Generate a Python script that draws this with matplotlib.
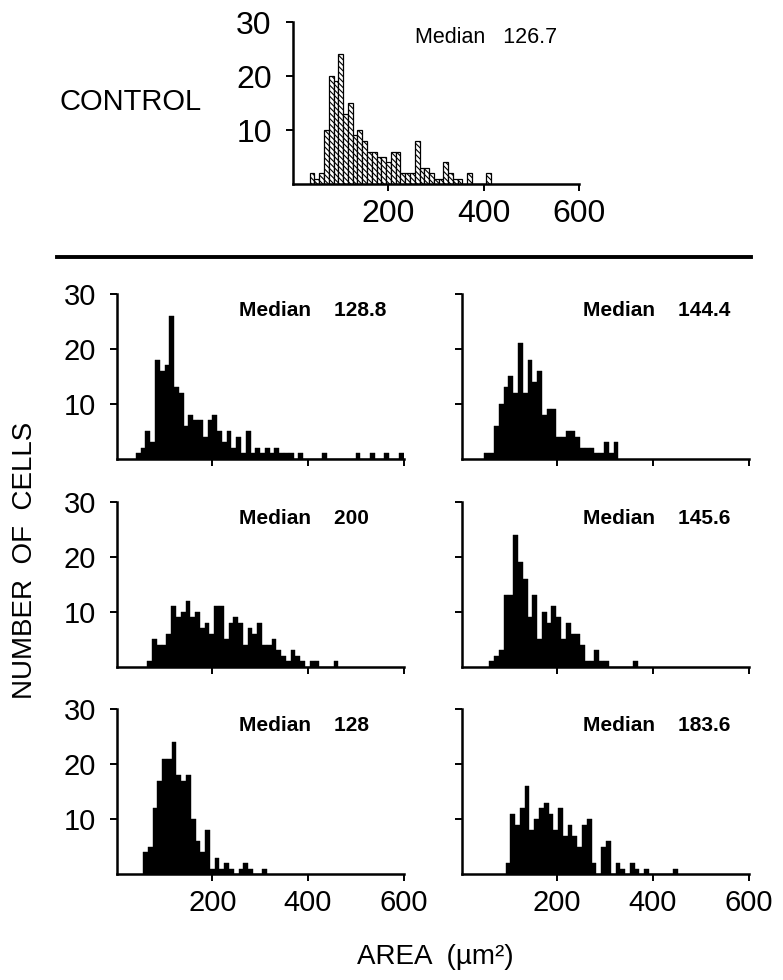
import numpy as np
import matplotlib

matplotlib.use("Agg")
import matplotlib.pyplot as plt
from matplotlib.lines import Line2D

plt.rcParams["font.family"] = ["Liberation Sans", "DejaVu Sans"]
plt.rcParams["hatch.linewidth"] = 0.8

# histogram data: bin width in um^2, first bin edge and counts per bin
BIN_WIDTH = 10

control_start = 36
control_counts = [2, 1, 2, 10, 20, 19, 24, 13, 15, 9, 10, 8, 6, 6, 5, 5, 4, 6, 6, 2,
                  2, 2, 8, 3, 3, 2, 1, 1, 4, 2, 1, 1, 0, 2, 0, 0, 0, 2]
control_median = "126.7"

r1_left_start = 40
r1_left_counts = [1, 2, 5, 3, 18, 16, 17, 26, 13, 12, 6, 8, 7, 7, 4, 7, 8, 5, 3, 5,
                  2, 4, 1, 5, 1, 2, 1, 2, 1, 2, 1, 1, 1, 0, 1, 0, 0, 0, 0, 1,
                  0, 0, 0, 0, 0, 0, 1, 0, 0, 1, 0, 0, 1, 0, 0, 1]
r1_left_median = "128.8"

r1_right_start = 48
r1_right_counts = [1, 1, 6, 10, 13, 15, 12, 21, 12, 18, 14, 16, 8, 9, 9, 4, 4, 5, 5, 4,
                   2, 2, 2, 1, 1, 3, 1, 3]
r1_right_median = "144.4"

r2_left_start = 64
r2_left_counts = [1, 5, 4, 4, 6, 11, 9, 10, 12, 9, 10, 7, 8, 6, 11, 11, 5, 8, 9, 8,
                  4, 7, 6, 8, 4, 4, 5, 3, 2, 1, 3, 2, 1, 0, 1, 1, 0, 0, 0, 1]
r2_left_median = "200"

r2_right_start = 58
r2_right_counts = [1, 2, 3, 13, 13, 24, 19, 16, 9, 13, 5, 10, 8, 11, 9, 5, 8, 6, 6, 4,
                   1, 1, 3, 1, 1, 0, 0, 0, 0, 0, 1]
r2_right_median = "145.6"

r3_left_start = 55
r3_left_counts = [4, 5, 12, 17, 21, 21, 24, 18, 17, 18, 10, 6, 4, 8, 1, 3, 1, 2, 1, 0,
                  1, 2, 1, 0, 0, 1]
r3_left_median = "128"

r3_right_start = 92
r3_right_counts = [2, 11, 9, 12, 16, 8, 10, 12, 13, 11, 8, 12, 7, 9, 7, 5, 9, 10, 2, 0,
                   5, 6, 0, 2, 1, 0, 2, 1, 0, 1, 0, 0, 0, 0, 0, 1]
r3_right_median = "183.6"

x_ticks = [200, 400, 600]
y_ticks = [10, 20, 30]


def style_axes(ax, xlabels, ylabels, labelsize):
    ax.set_xlim(0, 600)
    ax.set_ylim(0, 30)
    ax.patch.set_visible(False)
    for side in ["top", "right"]:
        ax.spines[side].set_visible(False)
    for side in ["left", "bottom"]:
        ax.spines[side].set_linewidth(1.8)
    ax.set_xticks(x_ticks)
    ax.set_yticks(y_ticks)
    ax.tick_params(axis="both", direction="out", length=5, width=1.4,
                   labelsize=labelsize)
    ax.tick_params(axis="x", pad=6)
    ax.tick_params(axis="y", pad=10)
    ax.tick_params(labelbottom=xlabels, labelleft=ylabels)


def draw_hist(ax, start, counts, **kw):
    edges = start + BIN_WIDTH * np.arange(len(counts))
    ax.bar(edges, counts, width=BIN_WIDTH, align="edge", **kw)


fig = plt.figure(figsize=(7.83, 9.8), dpi=100)
W, H = 783.0, 980.0


def add_axes_px(x0, x1, y_top, y_bot):
    return fig.add_axes([x0 / W, 1 - y_bot / H, (x1 - x0) / W, (y_bot - y_top) / H])


# control panel
ax = add_axes_px(292.5, 579, 22, 184)
draw_hist(ax, control_start, control_counts, color="white", edgecolor="black",
          linewidth=0.9, hatch="\\" * 6)
style_axes(ax, True, True, 23)
ax.text(256, 27.2, "Median   " + control_median, fontsize=15.5, va="center")
fig.text(131 / W, 1 - 102 / H, "CONTROL", fontsize=21, ha="center", va="center")

fig.add_artist(Line2D([57 / W, 751 / W], [1 - 257 / H, 1 - 257 / H],
                      transform=fig.transFigure, color="black", linewidth=2.8))

col_x = [(116.7, 403.5), (461.5, 748.5)]
row_y = [(294, 459), (502, 667), (709, 874)]
panels = [
    (r1_left_start, r1_left_counts, r1_left_median),
    (r1_right_start, r1_right_counts, r1_right_median),
    (r2_left_start, r2_left_counts, r2_left_median),
    (r2_right_start, r2_right_counts, r2_right_median),
    (r3_left_start, r3_left_counts, r3_left_median),
    (r3_right_start, r3_right_counts, r3_right_median),
]

for i, (start, counts, median) in enumerate(panels):
    row, col = divmod(i, 2)
    ax = add_axes_px(col_x[col][0], col_x[col][1], row_y[row][0], row_y[row][1])
    draw_hist(ax, start, counts, color="black", edgecolor="black", linewidth=0.3)
    style_axes(ax, row == 2, col == 0, 21)
    ax.text(255, 27, "Median    " + median, fontsize=15, fontweight="bold",
            va="center")

fig.text(25 / W, 1 - 560 / H, "NUMBER  OF  CELLS", fontsize=20, rotation=90,
         ha="center", va="center")
fig.text(435 / W, 1 - 957 / H, "AREA  (\u00b5m\u00b2)", fontsize=20,
         ha="center", va="center")

fig.savefig("out.png", dpi=100)
